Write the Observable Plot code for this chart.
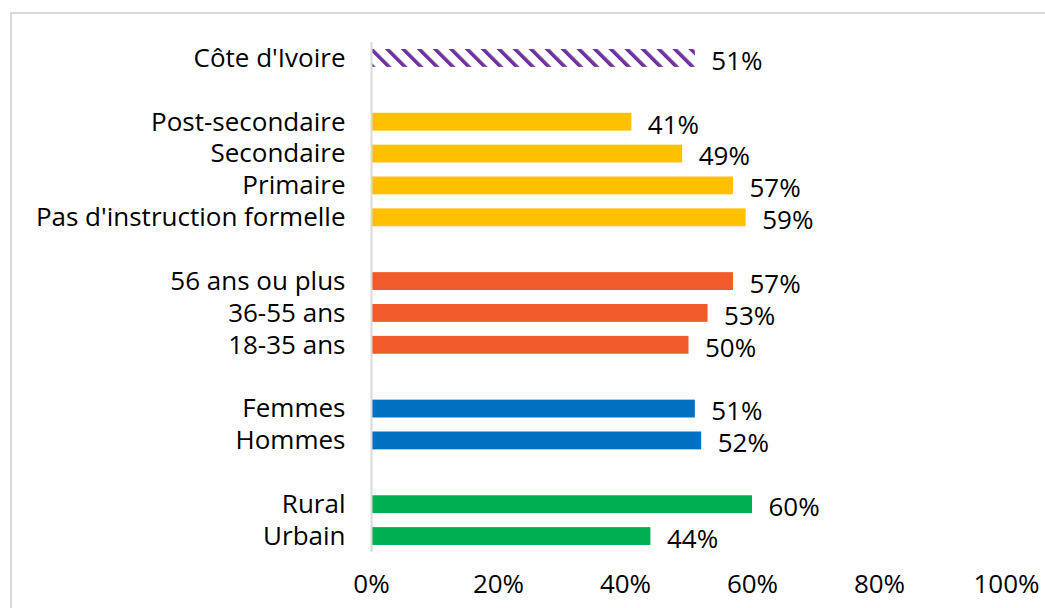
<!DOCTYPE html>
<html>
<head>
<meta charset="utf-8">
<script src="https://cdn.jsdelivr.net/npm/d3@7"></script>
<script src="https://cdn.jsdelivr.net/npm/@observablehq/plot@0.6"></script>
<style>
  html, body { margin: 0; padding: 0; background: #fff; overflow: hidden; }
  #wrap { position: relative; width: 1045px; height: 608px; }
  #frame { position: absolute; left: 10px; top: 12px; width: 1100px; height: 700px; border: 2px solid #d9d9d9; box-sizing: border-box; }
  #chart { position: absolute; left: 0; top: 0; }
</style>
</head>
<body>
<div id="wrap"><div id="frame"></div><div id="chart"></div></div>
<script>
// Categories in display order (blank slots separate the groups)
const categories = ["Côte d'Ivoire", "_g1", "Post-secondaire", "Secondaire", "Primaire", "Pas d'instruction formelle", "_g2", "56 ans ou plus", "36-55 ans", "18-35 ans", "_g3", "Femmes", "Hommes", "_g4", "Rural", "Urbain"];
const labels = ["Côte d'Ivoire", "Post-secondaire", "Secondaire", "Primaire", "Pas d'instruction formelle", "56 ans ou plus", "36-55 ans", "18-35 ans", "Femmes", "Hommes", "Rural", "Urbain"];
const values = [0.51, 0.41, 0.49, 0.57, 0.59, 0.57, 0.53, 0.50, 0.51, 0.52, 0.60, 0.44];
const groups = ["national", "instruction", "instruction", "instruction", "instruction", "age", "age", "age", "sexe", "sexe", "milieu", "milieu"];
const groupNames = ["national", "instruction", "age", "sexe", "milieu"];
const groupColors = ["url(#hatch)", "#FFC000", "#F15A2B", "#0070C0", "#00B050"];
const xTicks = [0, 0.2, 0.4, 0.6, 0.8, 1.0];

const data = labels.map((l, i) => ({label: l, value: values[i], group: groups[i]}));
const fmt = d3.format(".0%");
const font = "'Open Sans', sans-serif";
const fs = 26;

const plot = Plot.plot({
  width: 1045,
  height: 608,
  marginLeft: 371,
  marginRight: 39,
  marginTop: 35,
  marginBottom: 49,
  style: {fontFamily: font, fontSize: fs + "px", color: "#000", background: "transparent"},
  x: {domain: [0, 1], label: null},
  y: {domain: categories, padding: 0.44, round: false, label: null},
  color: {domain: groupNames, range: groupColors},
  marks: [
    Plot.barX(data, {x: "value", y: "label", fill: "group"}),
    Plot.ruleX([0], {stroke: "#d9d9d9", strokeWidth: 2, insetTop: 7, insetBottom: 7}),
    Plot.text(data, {x: "value", y: "label", text: d => fmt(d.value), textAnchor: "start", dx: 16, dy: 3, fill: "#000", fontSize: fs}),
    Plot.axisY({label: null, tickSize: 0, tickPadding: 26, tickFormat: d => d.startsWith("_") ? "" : d, fontSize: fs}),
    Plot.axisX({label: null, ticks: xTicks, tickFormat: fmt, tickSize: 0, tickPadding: 15, fontSize: fs})
  ]
});

// hatch pattern for the national bar
const svg = d3.select(plot);
const defs = svg.insert("defs", ":first-child");
const pat = defs.append("pattern")
  .attr("id", "hatch")
  .attr("patternUnits", "userSpaceOnUse")
  .attr("width", 11.3)
  .attr("height", 11.3)
  .attr("patternTransform", "rotate(-45)");
pat.append("rect").attr("width", 11.3).attr("height", 11.3).attr("fill", "#fff");
pat.append("rect").attr("width", 3.6).attr("height", 11.3).attr("fill", "#7030A0");

document.getElementById("chart").appendChild(plot);
</script>
</body>
</html>
